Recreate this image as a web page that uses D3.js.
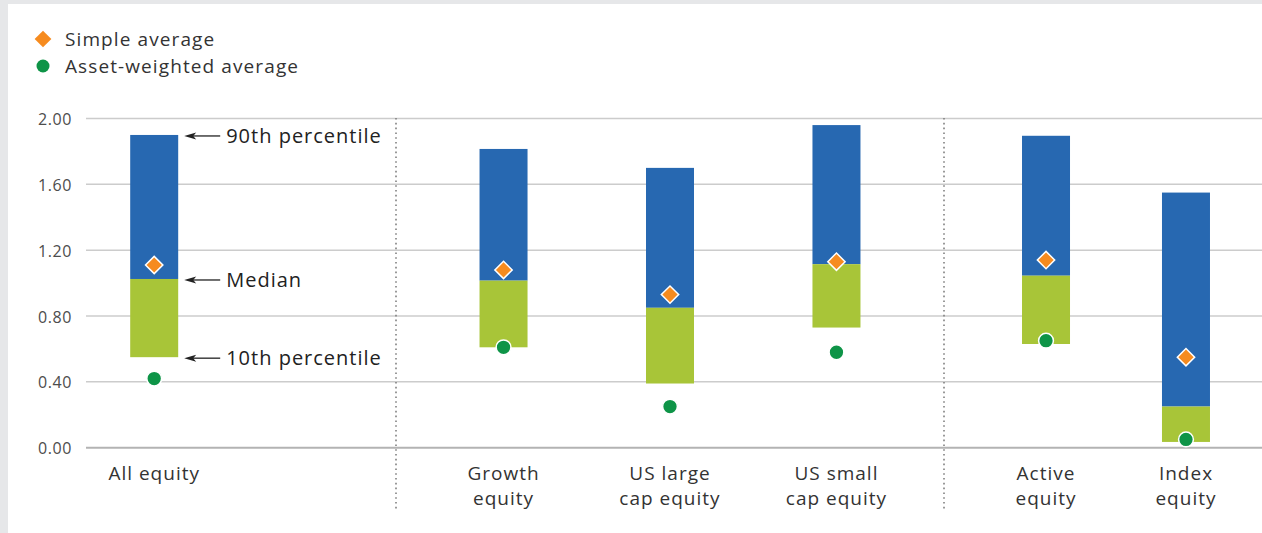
<!DOCTYPE html>
<html>
<head>
<meta charset="utf-8">
<script src="https://cdn.jsdelivr.net/npm/d3@7"></script>
<style>
  html, body { margin: 0; padding: 0; background: #e6e7e9; }
  svg { display: block; }
  text { font-family: "Open Sans", "Noto Sans", sans-serif; }
</style>
</head>
<body>
<svg id="chart" width="1262" height="533"></svg>
<script>
// chart data
const categories = [
    ["All equity"],
    ["Growth equity", "US large cap equity", "US small cap equity"],
    ["Active equity", "Index equity"]
];
const labelLines = {
    "All equity": ["All equity"],
    "Growth equity": ["Growth", "equity"],
    "US large cap equity": ["US large", "cap equity"],
    "US small cap equity": ["US small", "cap equity"],
    "Active equity": ["Active", "equity"],
    "Index equity": ["Index", "equity"]
};
const p10 = [0.55, 0.61, 0.39, 0.73, 0.63, 0.035];
const median = [1.025, 1.015, 0.85, 1.115, 1.045, 0.25];
const p90 = [1.90, 1.815, 1.70, 1.96, 1.895, 1.55];
const simpleAvg = [1.11, 1.08, 0.93, 1.13, 1.14, 0.55];
const weightedAvg = [0.42, 0.61, 0.25, 0.58, 0.65, 0.05];
const yTicks = [0, 0.4, 0.8, 1.2, 1.6, 2.0];

const svg = d3.select("#chart");
const W = 1262, H = 533;

// white card, grey frame shows on top/left
svg.append("rect").attr("x", 8).attr("y", 4).attr("width", W - 8).attr("height", H - 4).attr("fill", "#fff");

const left = 86, right = W;
const y = d3.scaleLinear().domain([0, 2]).range([447.7, 118.5]);

// each group gets its own point scale between the dividers
const dividers = [396, 944];
const panelEdges = [left, ...dividers, right];
const panelOpts = [
    { padding: 0, align: 0.22 },
    { padding: 0.646, align: 0.5 },
    { padding: 0.636, align: 0.573 }
];
const xPos = {};
categories.forEach((cats, i) => {
    const s = d3.scalePoint()
        .domain(cats)
        .range([panelEdges[i], panelEdges[i + 1]])
        .padding(panelOpts[i].padding)
        .align(panelOpts[i].align);
    cats.forEach(c => { xPos[c] = s(c); });
});
const allCats = categories.flat();
const barW = 48;

// gridlines
svg.append("g").selectAll("line")
    .data(yTicks)
    .join("line")
    .attr("x1", left).attr("x2", right)
    .attr("y1", d => y(d)).attr("y2", d => y(d))
    .attr("stroke", d => d === 0 ? "#b3b3b3" : "#cccccc")
    .attr("stroke-width", d => d === 0 ? 2 : 1.5);

// y tick labels
svg.append("g").selectAll("text")
    .data(yTicks)
    .join("text")
    .attr("x", 72).attr("y", d => y(d) + 1)
    .attr("dy", "0.35em")
    .attr("text-anchor", "end")
    .attr("font-size", 16)
    .attr("letter-spacing", 0.6)
    .attr("fill", "#4d4d4d")
    .text(d3.format(".2f"));

// dotted dividers
svg.append("g").selectAll("line")
    .data(dividers)
    .join("line")
    .attr("x1", d => d).attr("x2", d => d)
    .attr("y1", 118).attr("y2", 511)
    .attr("stroke", "#808080")
    .attr("stroke-width", 1.6)
    .attr("stroke-dasharray", "1.6,3.2");

// bars
const bars = svg.append("g");
allCats.forEach((c, i) => {
    const cx = xPos[c];
    bars.append("rect")
        .attr("x", cx - barW / 2).attr("width", barW)
        .attr("y", y(p90[i])).attr("height", y(median[i]) - y(p90[i]))
        .attr("fill", "#2768b1");
    bars.append("rect")
        .attr("x", cx - barW / 2).attr("width", barW)
        .attr("y", y(median[i])).attr("height", y(p10[i]) - y(median[i]))
        .attr("fill", "#a8c538");
});

// markers
const diamond = d3.symbol().type(d3.symbolSquare).size(150);
svg.append("g").selectAll("path")
    .data(allCats)
    .join("path")
    .attr("d", diamond)
    .attr("transform", (c, i) => `translate(${xPos[c]},${y(simpleAvg[i])}) rotate(45)`)
    .attr("fill", "#f68b1f")
    .attr("stroke", "#fff")
    .attr("stroke-width", 1.5);

svg.append("g").selectAll("circle")
    .data(allCats)
    .join("circle")
    .attr("cx", c => xPos[c])
    .attr("cy", (c, i) => y(weightedAvg[i]))
    .attr("r", 7.4)
    .attr("fill", "#0e9447")
    .attr("stroke", "#fff")
    .attr("stroke-width", 1.5);

// category labels
const lab = svg.append("g").attr("font-size", 19).attr("letter-spacing", 1)
    .attr("fill", "#333").attr("text-anchor", "middle");
allCats.forEach(c => {
    const t = lab.append("text").attr("x", xPos[c]).attr("y", 480);
    labelLines[c].forEach((l, k) => {
        t.append("tspan").attr("x", xPos[c]).attr("dy", k === 0 ? 0 : 25).text(l);
    });
});

// annotations on the first bar
const notes = [
    { text: "90th percentile", v: p90[0] },
    { text: "Median", v: median[0] },
    { text: "10th percentile", v: p10[0] }
];
const barRight = xPos[allCats[0]] + barW / 2;
const ann = svg.append("g");
notes.forEach(n => {
    const yy = y(n.v) + 1;
    const x0 = barRight + 6;
    ann.append("line")
        .attr("x1", x0 + 6).attr("x2", barRight + 42)
        .attr("y1", yy).attr("y2", yy)
        .attr("stroke", "#222").attr("stroke-width", 1.3);
    ann.append("path")
        .attr("d", `M${x0},${yy} L${x0 + 12},${yy - 3.5} L${x0 + 9},${yy} L${x0 + 12},${yy + 3.5} Z`)
        .attr("fill", "#222");
    ann.append("text")
        .attr("x", barRight + 48).attr("y", yy)
        .attr("dy", "0.35em")
        .attr("font-size", 20)
        .attr("letter-spacing", 1)
        .attr("fill", "#222")
        .text(n.text);
});

// legend
const legend = svg.append("g").attr("transform", "translate(43,0)");
legend.append("path")
    .attr("d", d3.symbol().type(d3.symbolSquare).size(140))
    .attr("transform", "translate(0,39) rotate(45)")
    .attr("fill", "#f68b1f");
legend.append("circle").attr("cx", 0).attr("cy", 66).attr("r", 6.5).attr("fill", "#0e9447");
legend.selectAll("text")
    .data([["Simple average", 39], ["Asset-weighted average", 66]])
    .join("text")
    .attr("x", 22).attr("y", d => d[1]).attr("dy", "0.35em")
    .attr("font-size", 19).attr("letter-spacing", 1.1)
    .attr("fill", "#333")
    .text(d => d[0]);
</script>
</body>
</html>
